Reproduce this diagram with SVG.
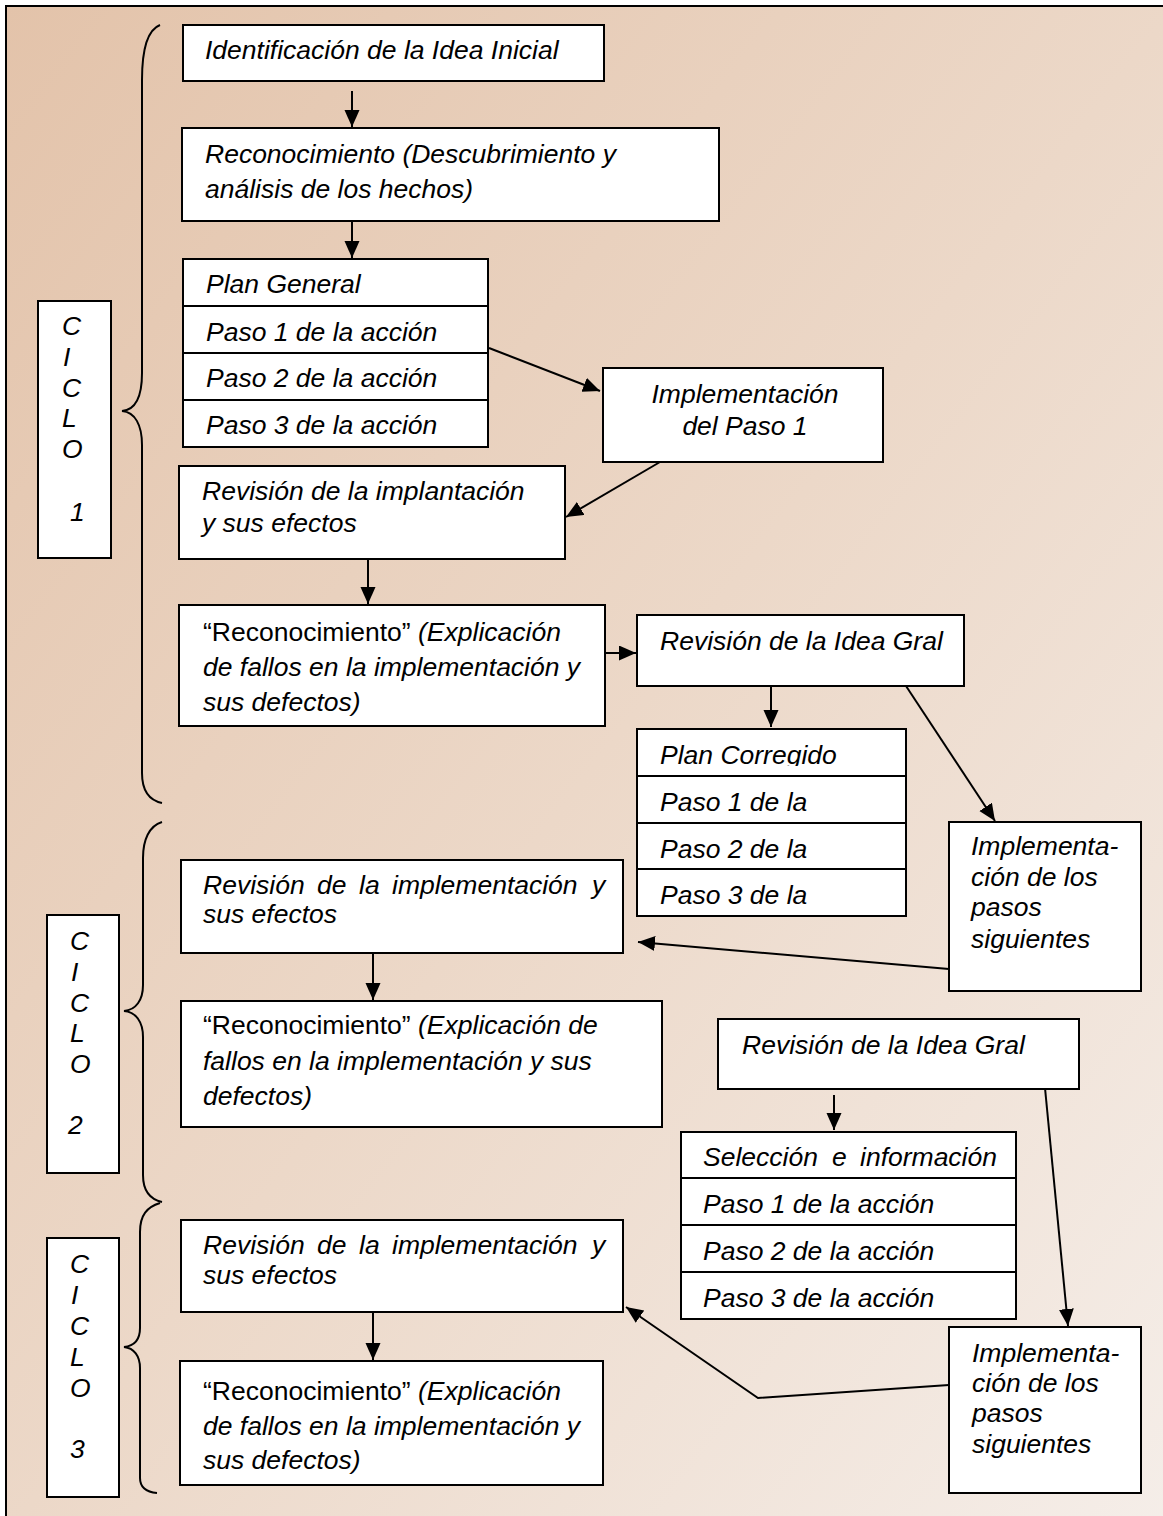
<svg xmlns="http://www.w3.org/2000/svg" width="1163" height="1516" viewBox="0 0 1163 1516">
  <defs>
    <linearGradient id="bg" x1="0" y1="0" x2="1" y2="1">
      <stop offset="0" stop-color="#E3C3AA"/>
      <stop offset="0.5" stop-color="#ECD8C8"/>
      <stop offset="1" stop-color="#F5EEE9"/>
    </linearGradient>
    <marker id="ah" markerUnits="userSpaceOnUse" markerWidth="18" markerHeight="16" refX="17" refY="7.5" orient="auto">
      <path d="M0,0 L17,7.5 L0,15 Z" fill="#000"/>
    </marker>
    <clipPath id="clipPC">
      <rect x="637" y="729" width="270" height="37"/>
    </clipPath>
  </defs>
  <style>
    .box { fill: #fff; stroke: #000; stroke-width: 2; }
    .t { font-family: "Liberation Sans", Arial, sans-serif; font-size: 26.5px; font-style: italic; fill: #000; }
    .up { font-style: normal; }
    .cn { stroke: #000; stroke-width: 2; fill: none; }
    .brace { stroke: #000; stroke-width: 2; fill: none; }
  </style>

  <!-- page background and frame -->
  <rect x="6" y="6" width="1170" height="1530" fill="url(#bg)" stroke="#000" stroke-width="2"/>

  <!-- cycle braces -->
  <g id="braces">
    <path class="brace" d="M160,25 C147,30 142,50 142,80 L142,373 C142,398 135,410 122,411 C135,412 142,425 142,445 L142,773 C142,790 148,800 162,803"/>
    <path class="brace" d="M162,822 C149,826 143,840 143,858 L143,985 C143,1000 136,1010 124,1011 C136,1012 143,1022 143,1037 L143,1175 C143,1190 149,1199 162,1202"/>
    <path class="brace" d="M160,1203 C147,1207 140,1215 140,1232 L140,1328 C140,1340 134,1346 124,1347 C134,1348 140,1356 140,1368 L140,1478 C140,1487 146,1492 157,1493"/>
  </g>

  <!-- cycle labels -->
  <g id="ciclo1">
    <rect class="box" x="38" y="301" width="73" height="257"/>
    <text class="t"><tspan x="62" y="335">C</tspan><tspan x="63" y="366">I</tspan><tspan x="62" y="397">C</tspan><tspan x="62" y="427">L</tspan><tspan x="62" y="458">O</tspan><tspan x="70" y="521">1</tspan></text>
  </g>
  <g id="ciclo2">
    <rect class="box" x="47" y="915" width="72" height="258"/>
    <text class="t"><tspan x="70" y="950">C</tspan><tspan x="71" y="981">I</tspan><tspan x="70" y="1012">C</tspan><tspan x="70" y="1042">L</tspan><tspan x="70" y="1073">O</tspan><tspan x="68" y="1134">2</tspan></text>
  </g>
  <g id="ciclo3">
    <rect class="box" x="47" y="1238" width="72" height="259"/>
    <text class="t"><tspan x="70" y="1273">C</tspan><tspan x="71" y="1304">I</tspan><tspan x="70" y="1335">C</tspan><tspan x="70" y="1366">L</tspan><tspan x="70" y="1397">O</tspan><tspan x="70" y="1458">3</tspan></text>
  </g>

  <!-- cycle 1 -->
  <g id="idea-inicial">
    <rect class="box" x="183" y="25" width="421" height="56"/>
    <text class="t" x="205" y="59">Identificación de la Idea Inicial</text>
  </g>
  <g id="reconocimiento-1">
    <rect class="box" x="182" y="128" width="537" height="93"/>
    <text class="t"><tspan x="205" y="163">Reconocimiento (Descubrimiento y</tspan><tspan x="205" y="198">análisis de los hechos)</tspan></text>
  </g>
  <g id="plan-general">
    <rect class="box" x="183" y="259" width="305" height="188"/>
    <path class="cn" d="M183,306 H488 M183,353 H488 M183,400 H488"/>
    <text class="t"><tspan x="206" y="293">Plan General</tspan><tspan x="206" y="341">Paso 1 de la acción</tspan><tspan x="206" y="387">Paso 2 de la acción</tspan><tspan x="206" y="434">Paso 3 de la acción</tspan></text>
  </g>
  <g id="implementacion-paso1">
    <rect class="box" x="603" y="368" width="280" height="94"/>
    <text class="t" text-anchor="middle"><tspan x="745" y="403">Implementación</tspan><tspan x="745" y="435">del Paso 1</tspan></text>
  </g>
  <g id="revision-implantacion">
    <rect class="box" x="179" y="466" width="386" height="93"/>
    <text class="t"><tspan x="202" y="500">Revisión de la implantación</tspan><tspan x="202" y="532">y sus efectos</tspan></text>
  </g>
  <g id="reconocimiento-2">
    <rect class="box" x="179" y="605" width="426" height="121"/>
    <text class="t"><tspan x="203" y="641"><tspan class="up">“Reconocimiento”</tspan> (Explicación</tspan><tspan x="203" y="676">de fallos en la implementación y</tspan><tspan x="203" y="711">sus defectos)</tspan></text>
  </g>
  <g id="revision-idea-1">
    <rect class="box" x="637" y="615" width="327" height="71"/>
    <text class="t" x="660" y="650">Revisión de la Idea Gral</text>
  </g>
  <g id="plan-corregido">
    <rect class="box" x="637" y="729" width="269" height="187"/>
    <path class="cn" d="M637,776 H906 M637,823 H906 M637,869 H906"/>
    <text class="t" x="660" y="764" clip-path="url(#clipPC)">Plan Corregido</text>
    <text class="t"><tspan x="660" y="811">Paso 1 de la</tspan><tspan x="660" y="858">Paso 2 de la</tspan><tspan x="660" y="904">Paso 3 de la</tspan></text>
  </g>
  <g id="implementacion-siguientes-1">
    <rect class="box" x="949" y="822" width="192" height="169"/>
    <text class="t"><tspan x="971" y="855">Implementa-</tspan><tspan x="971" y="886">ción de los</tspan><tspan x="971" y="916">pasos</tspan><tspan x="971" y="948">siguientes</tspan></text>
  </g>

  <!-- cycle 2 -->
  <g id="revision-implementacion-2">
    <rect class="box" x="181" y="860" width="442" height="93"/>
    <text class="t"><tspan x="203" y="894">Revisión</tspan><tspan x="317" y="894">de</tspan><tspan x="359" y="894">la</tspan><tspan x="392" y="894">implementación</tspan><tspan x="592" y="894">y</tspan><tspan x="203" y="923">sus efectos</tspan></text>
  </g>
  <g id="reconocimiento-3">
    <rect class="box" x="181" y="1001" width="481" height="126"/>
    <text class="t"><tspan x="203" y="1034"><tspan class="up">“Reconocimiento”</tspan> (Explicación de</tspan><tspan x="203" y="1070">fallos en la implementación y sus</tspan><tspan x="203" y="1105">defectos)</tspan></text>
  </g>
  <g id="revision-idea-2">
    <rect class="box" x="718" y="1019" width="361" height="70"/>
    <text class="t" x="742" y="1054">Revisión de la Idea Gral</text>
  </g>
  <g id="seleccion">
    <rect class="box" x="681" y="1132" width="335" height="187"/>
    <path class="cn" d="M681,1178 H1016 M681,1225 H1016 M681,1272 H1016"/>
    <text class="t"><tspan x="703" y="1166">Selección</tspan><tspan x="832" y="1166">e</tspan><tspan x="860" y="1166">información</tspan><tspan x="703" y="1213">Paso 1 de la acción</tspan><tspan x="703" y="1260">Paso 2 de la acción</tspan><tspan x="703" y="1307">Paso 3 de la acción</tspan></text>
  </g>
  <g id="implementacion-siguientes-2">
    <rect class="box" x="949" y="1327" width="192" height="166"/>
    <text class="t"><tspan x="972" y="1362">Implementa-</tspan><tspan x="972" y="1392">ción de los</tspan><tspan x="972" y="1422">pasos</tspan><tspan x="972" y="1453">siguientes</tspan></text>
  </g>

  <!-- cycle 3 -->
  <g id="revision-implementacion-3">
    <rect class="box" x="181" y="1220" width="442" height="92"/>
    <text class="t"><tspan x="203" y="1254">Revisión</tspan><tspan x="317" y="1254">de</tspan><tspan x="359" y="1254">la</tspan><tspan x="392" y="1254">implementación</tspan><tspan x="592" y="1254">y</tspan><tspan x="203" y="1284">sus efectos</tspan></text>
  </g>
  <g id="reconocimiento-4">
    <rect class="box" x="180" y="1361" width="423" height="124"/>
    <text class="t"><tspan x="203" y="1400"><tspan class="up">“Reconocimiento”</tspan> (Explicación</tspan><tspan x="203" y="1435">de fallos en la implementación y</tspan><tspan x="203" y="1469">sus defectos)</tspan></text>
  </g>

  <!-- connectors -->
  <g id="connectors" class="cn" marker-end="url(#ah)">
    <path d="M352,91 V127"/>
    <path d="M352,222 V258"/>
    <path d="M489,348 L600,391"/>
    <path d="M660,462 L566,517"/>
    <path d="M368,560 V604"/>
    <path d="M605,653 H636"/>
    <path d="M771,687 V727"/>
    <path d="M906,686 L995,821"/>
    <path d="M949,969 L638,942"/>
    <path d="M373,953 V1000"/>
    <path d="M834,1095 V1130"/>
    <path d="M1045,1088 L1068,1326"/>
    <path d="M949,1385 L758,1398 L626,1307"/>
    <path d="M373,1312 V1360"/>
  </g>
</svg>
